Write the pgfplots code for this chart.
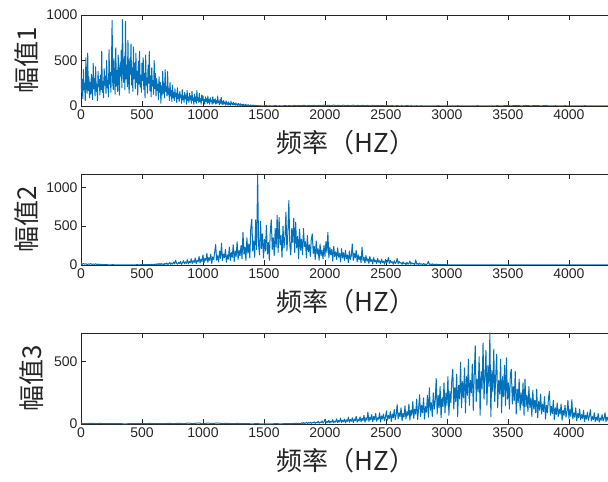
\documentclass[border=0pt]{standalone}
\usepackage{fontspec}
\setmainfont{Liberation Sans}
\newfontfamily\cjk{Noto Sans CJK SC}
\usepackage{pgfplots}
\pgfplotsset{compat=1.18}
\definecolor{mblue}{RGB}{0,114,189}
\definecolor{axgray}{RGB}{38,38,38}
\pgfplotsset{
  myax/.style={
    scale only axis, width=540pt, height=91pt,
    anchor=south west,
    xmin=0, xmax=4427, ymin=0,
    xtick={0,500,1000,1500,2000,2500,3000,3500,4000},
    tick align=inside, major tick length=5pt,
    axis line style={axgray, line width=0.5pt},
    every tick/.style={axgray, line width=0.5pt},
    ticklabel style={font=\fontsize{14}{16}\selectfont, text=axgray},
    /pgf/number format/assume math mode=true,
    /pgf/number format/1000 sep={},
    xlabel={频率（HZ）},
    xlabel style={font=\cjk\fontsize{26}{30}\selectfont, text=axgray, at={(axis description cs:0.4907,0)}, anchor=center, yshift=-37pt},
    ylabel style={font=\cjk\fontsize{26}{30}\selectfont, text=axgray, anchor=center},
  },
  sig/.style={draw=mblue, line width=1pt, no marks, line join=round},
}
\begin{document}
\begin{tikzpicture}
% ---------------- Axis 1 ----------------
\begin{axis}[myax, at={(81pt,376pt)}, ymax=1000, ytick={0,500,1000},
  ylabel={幅值1}, ylabel style={at={(axis description cs:-0.1,0.5)}}]
\addplot[sig] table[row sep=\\] {x y\\
0 360\\ 5 150\\ 10 290\\ 15 80\\ 20 400\\ 25 180\\ 30 250\\ 35 60\\ 40 530\\ 45 210\\
50 140\\ 55 580\\ 60 170\\ 65 320\\ 70 90\\ 75 260\\ 80 130\\ 85 350\\ 90 200\\ 95 70\\
100 470\\ 105 190\\ 110 300\\ 115 110\\ 120 430\\ 125 160\\ 130 240\\ 135 60\\ 140 380\\ 145 210\\
150 290\\ 155 120\\ 160 340\\ 165 180\\ 170 600\\ 175 150\\ 180 270\\ 185 90\\ 190 410\\ 195 230\\
200 330\\ 205 140\\ 210 500\\ 215 200\\ 220 280\\ 225 100\\ 230 620\\ 235 240\\ 240 370\\ 245 150\\
250 450\\ 255 940\\ 260 260\\ 265 180\\ 270 520\\ 275 310\\ 280 130\\ 285 640\\ 290 220\\ 295 390\\
300 160\\ 305 560\\ 310 280\\ 315 120\\ 320 470\\ 325 330\\ 330 610\\ 335 200\\ 340 950\\ 345 380\\
350 260\\ 355 540\\ 360 180\\ 365 930\\ 370 300\\ 375 450\\ 380 210\\ 385 720\\ 390 280\\ 395 140\\
400 520\\ 405 350\\ 410 680\\ 415 230\\ 420 420\\ 425 160\\ 430 650\\ 435 300\\ 440 470\\ 445 190\\
450 580\\ 455 260\\ 460 380\\ 465 120\\ 470 490\\ 475 240\\ 480 600\\ 485 210\\ 490 340\\ 495 150\\
500 470\\ 505 280\\ 510 530\\ 515 180\\ 520 360\\ 525 90\\ 530 560\\ 535 230\\ 540 310\\ 545 140\\
550 450\\ 555 250\\ 560 600\\ 565 170\\ 570 330\\ 575 100\\ 580 420\\ 585 220\\ 590 280\\ 595 130\\
600 500\\ 605 190\\ 610 360\\ 615 110\\ 620 300\\ 625 170\\ 630 240\\ 635 70\\ 640 320\\ 645 150\\
650 260\\ 655 30\\ 660 220\\ 665 120\\ 670 380\\ 675 140\\ 680 250\\ 685 90\\ 690 400\\ 695 160\\
700 210\\ 705 110\\ 710 380\\ 715 130\\ 720 190\\ 725 60\\ 730 260\\ 735 110\\ 740 170\\ 745 50\\
750 230\\ 755 90\\ 760 150\\ 765 60\\ 770 190\\ 775 100\\ 780 140\\ 785 40\\ 790 200\\ 795 80\\
800 130\\ 805 50\\ 810 160\\ 815 90\\ 820 120\\ 825 30\\ 830 180\\ 835 70\\ 840 110\\ 845 40\\
850 150\\ 855 80\\ 860 120\\ 865 20\\ 870 170\\ 875 60\\ 880 100\\ 885 40\\ 890 140\\ 895 70\\
900 110\\ 905 30\\ 910 160\\ 915 60\\ 920 90\\ 925 20\\ 930 130\\ 935 50\\ 940 100\\ 945 30\\
950 170\\ 955 60\\ 960 90\\ 965 40\\ 970 140\\ 975 50\\ 980 80\\ 985 20\\ 990 120\\ 995 60\\
1000 110\\ 1005 40\\ 1010 70\\ 1015 20\\ 1020 100\\ 1025 50\\ 1030 80\\ 1035 30\\ 1040 110\\ 1045 40\\
1050 70\\ 1055 20\\ 1060 90\\ 1065 50\\ 1070 60\\ 1075 20\\ 1080 100\\ 1085 30\\ 1090 70\\ 1095 40\\
1100 80\\ 1105 20\\ 1110 60\\ 1115 30\\ 1120 110\\ 1125 40\\ 1130 50\\ 1135 15\\ 1140 70\\ 1145 30\\
1150 95\\ 1155 20\\ 1160 50\\ 1165 15\\ 1170 60\\ 1175 25\\ 1180 40\\ 1185 10\\ 1190 55\\ 1195 20\\
1200 35\\ 1205 10\\ 1210 45\\ 1215 15\\ 1220 30\\ 1225 8\\ 1230 50\\ 1235 20\\ 1240 30\\ 1245 10\\
1250 40\\ 1255 15\\ 1260 25\\ 1265 8\\ 1270 35\\ 1275 12\\ 1280 20\\ 1285 6\\ 1290 30\\ 1295 10\\
1300 20\\ 1305 5\\ 1310 25\\ 1315 8\\ 1320 15\\ 1325 5\\ 1330 20\\ 1335 6\\ 1340 12\\ 1345 4\\
1350 18\\ 1355 6\\ 1360 10\\ 1365 3\\ 1370 14\\ 1375 5\\ 1380 9\\ 1385 3\\ 1390 12\\ 1395 4\\
1400 8\\ 1405 2\\ 1410 10\\ 1415 3\\ 1420 6\\ 1425 2\\ 1430 8\\ 1435 3\\ 1440 5\\ 1445 2\\
1450 6\\ 1455 2\\ 1470 3\\ 1490 1\\ 1510 4\\ 1530 2\\ 1550 3\\ 1570 1\\ 1590 4\\ 1610 2\\
1630 3\\ 1650 1\\ 1670 5\\ 1690 2\\ 1710 4\\ 1730 2\\ 1750 6\\ 1770 2\\ 1790 5\\ 1810 3\\
1830 7\\ 1850 2\\ 1870 6\\ 1890 3\\ 1910 8\\ 1930 3\\ 1950 7\\ 1970 2\\ 1990 9\\ 2010 4\\
2030 8\\ 2050 3\\ 2070 10\\ 2090 4\\ 2110 7\\ 2130 3\\ 2150 9\\ 2170 4\\ 2190 8\\ 2210 3\\
2230 9\\ 2250 4\\ 2270 7\\ 2290 3\\ 2310 8\\ 2330 3\\ 2350 6\\ 2370 2\\ 2390 7\\ 2410 3\\
2430 5\\ 2450 2\\ 2470 6\\ 2490 2\\ 2510 5\\ 2530 2\\ 2550 4\\ 2570 1\\ 2590 4\\ 2610 2\\
2630 3\\ 2650 1\\ 2670 4\\ 2690 2\\ 2710 3\\ 2730 1\\ 2750 3\\ 2770 1\\ 2790 3\\ 2810 1\\
2850 2\\ 2890 1\\ 2930 3\\ 2970 1\\ 3010 2\\ 3050 1\\ 3090 3\\ 3130 1\\ 3170 2\\ 3210 1\\
3250 3\\ 3290 1\\ 3330 2\\ 3370 1\\ 3410 3\\ 3450 2\\ 3490 4\\ 3530 2\\ 3570 5\\ 3610 2\\
3650 4\\ 3690 2\\ 3730 5\\ 3770 2\\ 3810 4\\ 3850 1\\ 3890 3\\ 3930 1\\ 3970 3\\ 4010 1\\
4050 2\\ 4090 1\\ 4130 3\\ 4170 1\\ 4210 2\\ 4250 1\\ 4290 2\\ 4330 1\\ 4370 2\\ 4410 1\\
};
\end{axis}
% ---------------- Axis 2 ----------------
\begin{axis}[myax, at={(81pt,217pt)}, ymax=1170, ytick={0,500,1000},
  ylabel={幅值2}, ylabel style={at={(axis description cs:-0.1,0.5)}}]
\addplot[sig] table[row sep=\\] {x y\\
0 18\\ 10 8\\ 20 20\\ 30 10\\ 40 16\\ 50 6\\ 60 14\\ 70 9\\ 80 17\\ 90 7\\
100 13\\ 110 8\\ 120 15\\ 130 5\\ 140 12\\ 150 6\\ 160 10\\ 170 4\\ 180 8\\ 190 3\\
200 6\\ 220 3\\ 240 2\\ 260 4\\ 280 2\\ 300 3\\ 320 1\\ 340 3\\ 360 2\\ 380 3\\
400 1\\ 420 3\\ 440 2\\ 460 4\\ 480 2\\ 500 5\\ 520 3\\ 540 6\\ 560 3\\ 580 8\\
600 4\\ 608 12\\ 616 3\\ 624 15\\ 632 6\\ 640 18\\ 648 5\\ 656 20\\ 664 8\\ 672 14\\
680 4\\ 688 22\\ 696 10\\ 704 26\\ 712 7\\ 720 18\\ 728 33\\ 736 9\\ 744 24\\ 752 12\\
760 38\\ 768 15\\ 776 62\\ 784 20\\ 792 11\\ 800 35\\ 808 18\\ 816 47\\ 824 9\\ 832 30\\
840 55\\ 848 16\\ 856 40\\ 864 22\\ 872 68\\ 880 14\\ 888 45\\ 896 28\\ 904 80\\ 912 20\\
920 55\\ 928 35\\ 936 90\\ 944 18\\ 952 62\\ 960 40\\ 968 110\\ 976 25\\ 984 75\\ 992 45\\
1000 130\\ 1008 30\\ 1016 85\\ 1024 55\\ 1032 150\\ 1040 35\\ 1048 95\\ 1056 60\\ 1064 140\\ 1072 20\\
1080 105\\ 1088 70\\ 1096 170\\ 1104 265\\ 1112 60\\ 1120 120\\ 1128 40\\ 1136 180\\ 1144 85\\ 1152 280\\
1160 55\\ 1168 140\\ 1176 95\\ 1184 200\\ 1192 35\\ 1200 130\\ 1208 75\\ 1216 230\\ 1224 60\\ 1232 160\\
1240 100\\ 1248 260\\ 1256 45\\ 1264 180\\ 1272 110\\ 1280 300\\ 1288 70\\ 1296 190\\ 1304 120\\ 1312 250\\
1320 80\\ 1328 420\\ 1336 140\\ 1344 230\\ 1352 60\\ 1360 350\\ 1368 150\\ 1376 270\\ 1384 90\\ 1392 480\\
1400 590\\ 1408 180\\ 1416 310\\ 1424 100\\ 1432 580\\ 1440 200\\ 1448 1150\\ 1456 250\\ 1464 130\\ 1472 560\\
1480 210\\ 1488 400\\ 1496 90\\ 1504 330\\ 1512 180\\ 1520 510\\ 1528 140\\ 1536 290\\ 1544 60\\ 1552 440\\
1560 580\\ 1568 200\\ 1576 350\\ 1584 120\\ 1592 470\\ 1600 230\\ 1608 640\\ 1616 160\\ 1624 610\\ 1632 260\\
1640 380\\ 1648 100\\ 1656 500\\ 1664 220\\ 1672 340\\ 1680 680\\ 1688 180\\ 1696 420\\ 1704 830\\ 1712 250\\
1720 130\\ 1728 470\\ 1736 290\\ 1744 600\\ 1752 160\\ 1760 550\\ 1768 220\\ 1776 370\\ 1784 80\\ 1792 460\\
1800 190\\ 1808 330\\ 1816 130\\ 1824 470\\ 1832 240\\ 1840 300\\ 1848 90\\ 1856 380\\ 1864 170\\ 1872 260\\
1880 110\\ 1888 330\\ 1896 400\\ 1904 150\\ 1912 240\\ 1920 70\\ 1928 310\\ 1936 140\\ 1944 210\\ 1952 60\\
1960 270\\ 1968 120\\ 1976 190\\ 1984 80\\ 1992 250\\ 2000 110\\ 2008 300\\ 2016 160\\ 2024 420\\ 2032 90\\
2040 230\\ 2048 130\\ 2056 200\\ 2064 50\\ 2072 240\\ 2080 110\\ 2088 170\\ 2096 70\\ 2104 220\\ 2112 100\\
2120 150\\ 2128 40\\ 2136 210\\ 2144 90\\ 2152 160\\ 2160 60\\ 2168 190\\ 2176 80\\ 2184 130\\ 2192 30\\
2200 180\\ 2208 70\\ 2216 120\\ 2224 270\\ 2232 60\\ 2240 150\\ 2248 90\\ 2256 190\\ 2264 40\\ 2272 130\\
2280 70\\ 2288 110\\ 2296 30\\ 2304 230\\ 2312 60\\ 2320 100\\ 2328 25\\ 2336 120\\ 2344 50\\ 2352 80\\
2360 20\\ 2368 110\\ 2376 45\\ 2384 70\\ 2392 15\\ 2400 95\\ 2408 40\\ 2416 60\\ 2424 20\\ 2432 85\\
2440 35\\ 2448 55\\ 2456 15\\ 2464 75\\ 2472 30\\ 2480 50\\ 2488 10\\ 2496 70\\ 2504 25\\ 2512 45\\
2520 95\\ 2528 20\\ 2536 60\\ 2544 30\\ 2552 40\\ 2560 10\\ 2568 55\\ 2576 20\\ 2584 35\\ 2592 85\\
2600 15\\ 2608 45\\ 2616 25\\ 2624 30\\ 2632 8\\ 2640 40\\ 2648 15\\ 2656 25\\ 2664 5\\ 2672 35\\
2680 12\\ 2688 20\\ 2696 50\\ 2704 10\\ 2712 28\\ 2720 14\\ 2728 20\\ 2736 5\\ 2744 65\\ 2752 10\\
2760 18\\ 2768 6\\ 2776 25\\ 2784 9\\ 2792 15\\ 2800 4\\ 2808 20\\ 2816 7\\ 2824 12\\ 2832 3\\
2840 18\\ 2848 45\\ 2856 8\\ 2864 12\\ 2872 4\\ 2880 15\\ 2888 6\\ 2896 10\\ 2904 3\\ 2912 12\\
2920 5\\ 2928 8\\ 2936 2\\ 2944 10\\ 2952 4\\ 2960 6\\ 2968 2\\ 2976 7\\ 2984 3\\ 2992 5\\
3000 2\\ 3040 3\\ 3080 1\\ 3120 2\\ 3160 1\\ 3200 3\\ 3240 1\\ 3280 2\\ 3320 1\\ 3360 2\\
3400 1\\ 3440 2\\ 3480 1\\ 3520 2\\ 3560 1\\ 3600 2\\ 3640 1\\ 3680 2\\ 3720 1\\ 3760 2\\
3800 1\\ 3840 2\\ 3880 1\\ 3920 2\\ 3960 1\\ 4000 2\\ 4040 1\\ 4080 2\\ 4120 1\\ 4160 2\\
4200 1\\ 4240 2\\ 4280 1\\ 4320 2\\ 4360 1\\ 4400 2\\
};
\end{axis}
% ---------------- Axis 3 ----------------
\begin{axis}[myax, at={(81pt,58pt)}, ymax=730, ytick={0,500},
  ylabel={幅值3}, ylabel style={at={(axis description cs:-0.091,0.5)}}]
\addplot[sig] table[row sep=\\] {x y\\
0 5\\ 40 2\\ 80 6\\ 120 3\\ 160 5\\ 200 2\\ 240 4\\ 280 2\\ 320 3\\ 360 1\\
400 3\\ 440 2\\ 480 4\\ 520 2\\ 560 5\\ 600 2\\ 640 4\\ 680 2\\ 720 5\\ 760 3\\
800 6\\ 840 2\\ 880 7\\ 920 3\\ 960 8\\ 1000 3\\ 1040 7\\ 1080 4\\ 1120 8\\ 1160 3\\
1200 6\\ 1240 2\\ 1280 5\\ 1320 2\\ 1360 4\\ 1400 1\\ 1440 3\\ 1480 1\\ 1520 2\\ 1560 1\\
1600 3\\ 1640 1\\ 1680 4\\ 1720 2\\ 1760 6\\ 1800 3\\
1808 10\\ 1816 3\\ 1824 12\\ 1832 5\\ 1840 8\\ 1848 14\\ 1856 4\\ 1864 11\\ 1872 6\\ 1880 15\\
1888 5\\ 1896 12\\ 1904 8\\ 1912 18\\ 1920 5\\ 1928 14\\ 1936 9\\ 1944 22\\ 1952 6\\ 1960 16\\
1968 10\\ 1976 25\\ 1984 7\\ 1992 18\\ 2000 38\\ 2008 9\\ 2016 22\\ 2024 12\\ 2032 30\\ 2040 8\\
2048 20\\ 2056 14\\ 2064 35\\ 2072 10\\ 2080 24\\ 2088 15\\ 2096 42\\ 2104 11\\ 2112 28\\ 2120 16\\
2128 48\\ 2136 12\\ 2144 30\\ 2152 18\\ 2160 40\\ 2168 9\\ 2176 34\\ 2184 20\\ 2192 55\\ 2200 14\\
2208 36\\ 2216 22\\ 2224 50\\ 2232 12\\ 2240 40\\ 2248 25\\ 2256 62\\ 2264 15\\ 2272 38\\ 2280 24\\
2288 58\\ 2296 18\\ 2304 45\\ 2312 28\\ 2320 70\\ 2328 16\\ 2336 50\\ 2344 30\\ 2352 95\\ 2360 20\\
2368 55\\ 2376 34\\ 2384 75\\ 2392 18\\ 2400 60\\ 2408 35\\ 2416 85\\ 2424 22\\ 2432 50\\ 2440 38\\
2448 90\\ 2456 15\\ 2464 65\\ 2472 40\\ 2480 80\\ 2488 25\\ 2496 55\\ 2504 105\\ 2512 30\\ 2520 70\\
2528 45\\ 2536 100\\ 2544 20\\ 2552 80\\ 2560 50\\ 2568 115\\ 2576 35\\ 2584 75\\ 2592 155\\ 2600 40\\
2608 90\\ 2616 60\\ 2624 130\\ 2632 25\\ 2640 85\\ 2648 55\\ 2656 145\\ 2664 40\\ 2672 100\\ 2680 65\\
2688 160\\ 2696 30\\ 2704 110\\ 2712 70\\ 2720 180\\ 2728 45\\ 2736 120\\ 2744 80\\ 2752 200\\ 2760 35\\
2768 130\\ 2776 235\\ 2784 60\\ 2792 150\\ 2800 90\\ 2808 210\\ 2816 40\\ 2824 140\\ 2832 95\\ 2840 230\\
2848 55\\ 2856 290\\ 2864 110\\ 2872 170\\ 2880 60\\ 2888 250\\ 2896 120\\ 2904 190\\ 2912 365\\ 2920 80\\
2928 230\\ 2936 130\\ 2944 300\\ 2952 50\\ 2960 210\\ 2968 140\\ 2976 330\\ 2984 90\\ 2992 250\\ 3000 150\\
3008 380\\ 3016 70\\ 3024 260\\ 3032 170\\ 3040 350\\ 3048 440\\ 3056 120\\ 3064 290\\ 3072 180\\ 3080 400\\
3088 60\\ 3096 310\\ 3104 200\\ 3112 495\\ 3120 130\\ 3128 340\\ 3136 210\\ 3144 450\\ 3152 90\\ 3160 380\\
3168 230\\ 3176 520\\ 3184 150\\ 3192 350\\ 3200 250\\ 3208 480\\ 3216 110\\ 3224 400\\ 3232 627\\ 3240 180\\
3248 360\\ 3256 260\\ 3264 540\\ 3272 70\\ 3280 420\\ 3288 280\\ 3296 650\\ 3304 200\\ 3312 380\\ 3320 590\\
3328 150\\ 3336 470\\ 3344 300\\ 3352 730\\ 3360 60\\ 3368 430\\ 3376 260\\ 3384 600\\ 3392 180\\ 3400 390\\
3408 560\\ 3416 130\\ 3424 350\\ 3432 240\\ 3440 520\\ 3448 90\\ 3456 380\\ 3464 220\\ 3472 470\\ 3480 150\\
3488 530\\ 3496 200\\ 3504 330\\ 3512 120\\ 3520 400\\ 3528 440\\ 3536 160\\ 3544 300\\ 3552 190\\ 3560 420\\
3568 80\\ 3576 280\\ 3584 170\\ 3592 360\\ 3600 110\\ 3608 250\\ 3616 150\\ 3624 330\\ 3632 70\\ 3640 360\\
3648 140\\ 3656 230\\ 3664 100\\ 3672 300\\ 3680 130\\ 3688 210\\ 3696 60\\ 3704 270\\ 3712 120\\ 3720 190\\
3728 90\\ 3736 280\\ 3744 50\\ 3752 180\\ 3760 110\\ 3768 240\\ 3776 80\\ 3784 160\\ 3792 100\\ 3800 220\\
3808 40\\ 3816 150\\ 3824 90\\ 3832 200\\ 3840 262\\ 3848 70\\ 3856 140\\ 3864 85\\ 3872 190\\ 3880 35\\
3888 130\\ 3896 75\\ 3904 170\\ 3912 60\\ 3920 120\\ 3928 80\\ 3936 160\\ 3944 30\\ 3952 110\\ 3960 70\\
3968 150\\ 3976 55\\ 3984 100\\ 3992 190\\ 4000 45\\ 4008 120\\ 4016 60\\ 4024 195\\ 4032 40\\ 4040 90\\
4048 55\\ 4056 130\\ 4064 25\\ 4072 85\\ 4080 50\\ 4088 120\\ 4096 35\\ 4104 75\\ 4112 45\\ 4120 110\\
4128 20\\ 4136 70\\ 4144 40\\ 4152 95\\ 4160 30\\ 4168 65\\ 4176 115\\ 4184 25\\ 4192 60\\ 4200 35\\
4208 90\\ 4216 20\\ 4224 55\\ 4232 30\\ 4240 85\\ 4248 15\\ 4256 50\\ 4264 30\\ 4272 75\\ 4280 25\\
4288 45\\ 4296 90\\ 4304 20\\ 4312 55\\ 4320 30\\ 4328 70\\ 4336 15\\ 4344 50\\ 4352 25\\ 4360 60\\
4368 20\\ 4376 45\\ 4384 15\\ 4392 40\\ 4400 20\\
};
\end{axis}
\pgfresetboundingbox
\path[use as bounding box] (0,0) rectangle (608pt,482pt);
\end{tikzpicture}
\end{document}
